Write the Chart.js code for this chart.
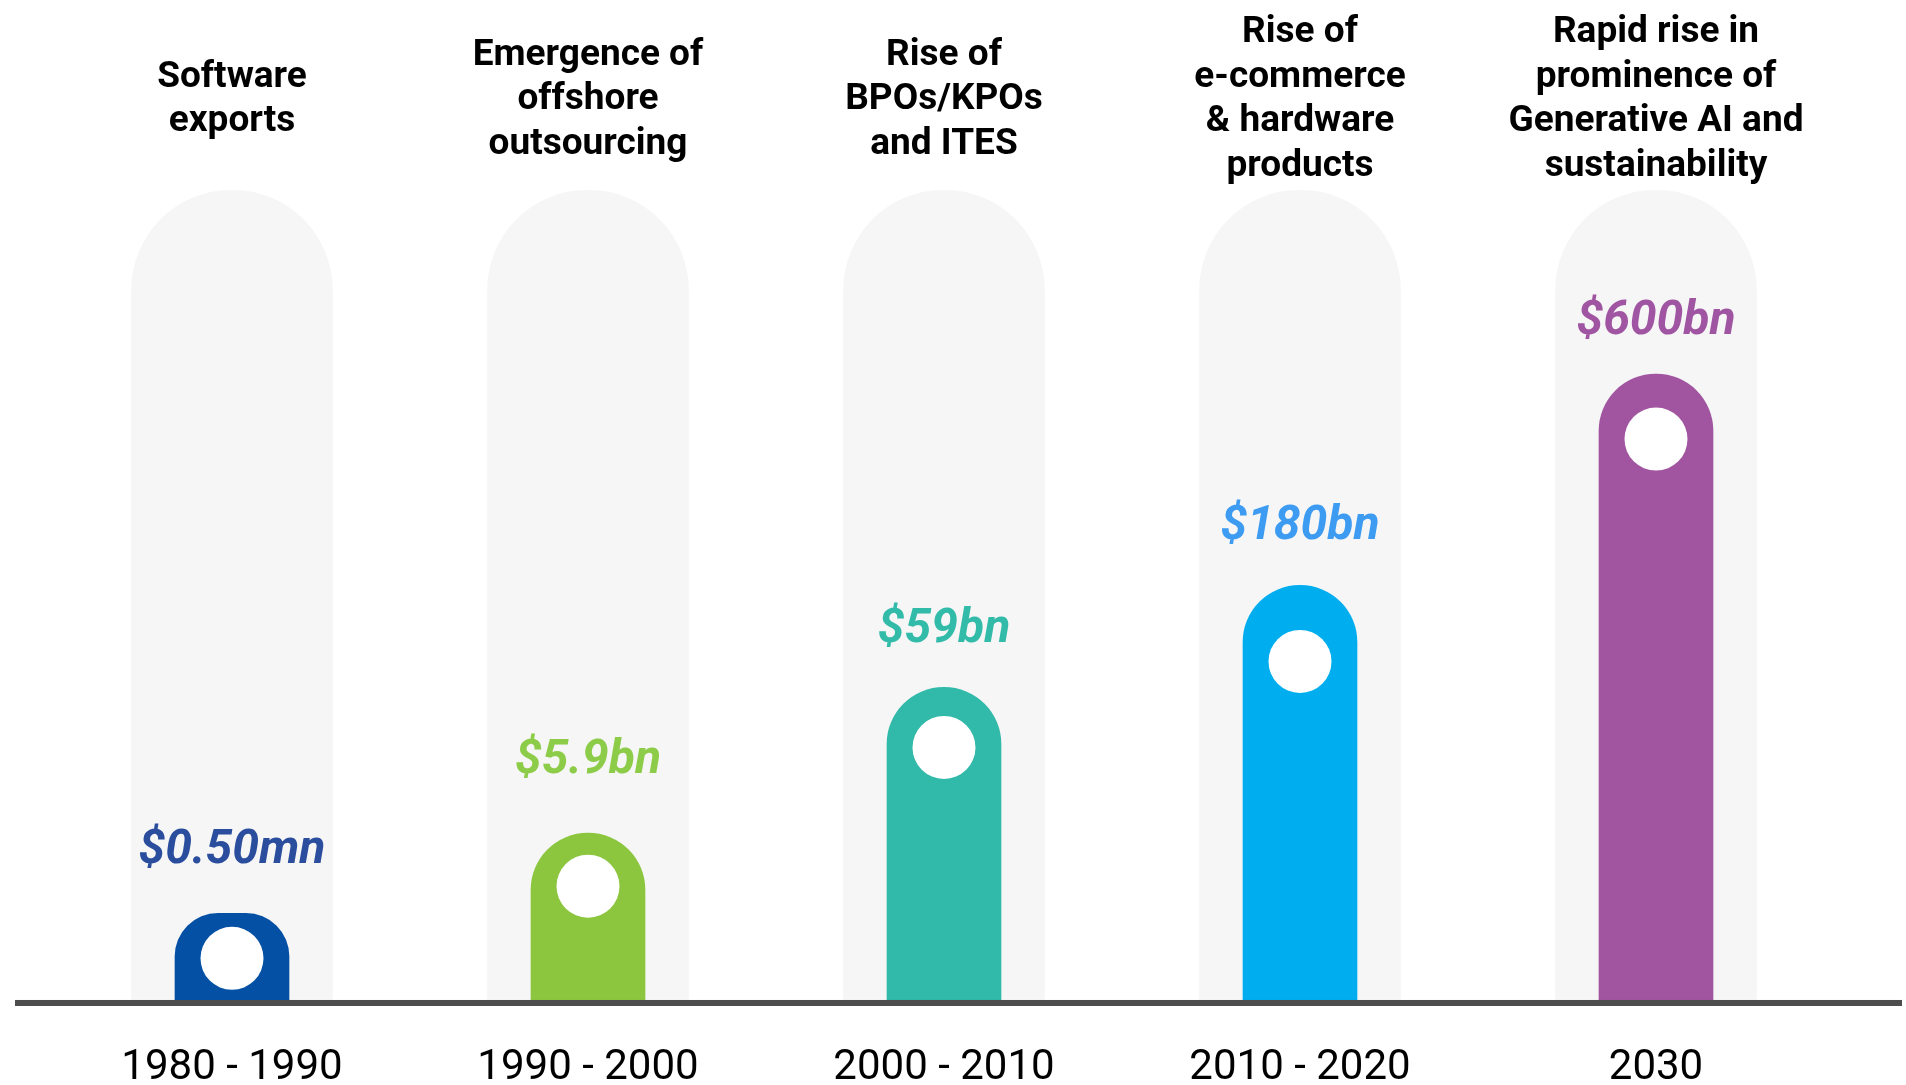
<!DOCTYPE html>
<html>
<head>
<meta charset="utf-8">
<script src="https://cdn.jsdelivr.net/npm/chart.js@4/dist/chart.umd.min.js"></script>
<style>
  html, body { margin: 0; padding: 0; background: #fff; }
  #wrap { width: 1906px; height: 1085px; position: relative; }
</style>
</head>
<body>
<div id="wrap"><canvas id="exportsChart"></canvas></div>
<script>
// periods on the bottom axis
const periods = ["1980 - 1990", "1990 - 2000", "2000 - 2010", "2010 - 2020", "2030"];
// themes shown above each column
const themes = [
  ["Software", "exports"],
  ["Emergence of", "offshore", "outsourcing"],
  ["Rise of", "BPOs/KPOs", "and ITES"],
  ["Rise of", "e-commerce", "& hardware", "products"],
  ["Rapid rise in", "prominence of", "Generative AI and", "sustainability"]
];
// export value written over each bar
const valueLabels = ["$0.50mn", "$5.9bn", "$59bn", "$180bn", "$600bn"];
// drawn bar height, % of the grey track (bars are illustrative, not to scale)
const barHeights = [10.7, 20.6, 38.6, 51.2, 77.3];
const trackHeights = [100, 100, 100, 100, 100];

const barColors = ["#0450a4", "#8cc63f", "#31b9a9", "#00aeef", "#a155a0"];
const labelColors = ["#2a4d9d", "#8dcc48", "#33bba9", "#3d9bf2", "#a055a2"];

// per-bar spacing of the value text and the white dot (px from bar top)
const labelGap = [50, 60, 45, 46, 40];
const dotDrop = [45, 53, 60, 76, 65];

const markers = {
  id: "markers",
  afterDatasetsDraw(chart) {
    const ctx = chart.ctx;
    const zeroY = chart.scales.y.getPixelForValue(0);
    const meta = chart.getDatasetMeta(0);
    ctx.save();
    // base line across the whole picture
    ctx.fillStyle = "#4d4d4d";
    ctx.fillRect(15, zeroY, 1887, 6);
    meta.data.forEach(function (bar, i) {
      // white dot inside the rounded head
      ctx.beginPath();
      ctx.arc(bar.x, bar.y + dotDrop[i], 31.5, 0, Math.PI * 2);
      ctx.fillStyle = "#ffffff";
      ctx.fill();
      // value text
      ctx.font = "italic bold 48px Roboto";
      ctx.textAlign = "center";
      ctx.textBaseline = "alphabetic";
      ctx.fillStyle = labelColors[i];
      ctx.fillText(valueLabels[i], bar.x, bar.y - labelGap[i]);
    });
    ctx.restore();
  }
};

var ctx = document.getElementById("exportsChart").getContext("2d");
var exportsChart = new Chart(ctx, {
  type: "bar",
  data: {
    labels: periods,
    datasets: [
      {
        label: "Exports",
        data: barHeights,
        backgroundColor: barColors,
        barThickness: 114,
        grouped: false,
        borderSkipped: "start",
        borderRadius: { topLeft: 57, topRight: 57, bottomLeft: 0, bottomRight: 0 },
      },
      {
        label: "Track",
        data: trackHeights,
        backgroundColor: "#f6f6f6",
        barThickness: 201,
        grouped: false,
        borderSkipped: "start",
        borderRadius: { topLeft: 100, topRight: 100, bottomLeft: 0, bottomRight: 0 },
      },
    ],
  },
  options: {
    responsive: true,
    maintainAspectRatio: false,
    animation: false,
    layout: {
      padding: { top: 0, left: 54, right: 72, bottom: 0 },
    },
    plugins: {
      legend: { display: false },
      tooltip: { enabled: false },
    },
    scales: {
      x: {
        type: "category",
        position: { y: 0 },
        offset: true,
        grid: { display: false, drawTicks: false },
        border: { display: false },
        ticks: {
          color: "#000",
          padding: 48,
          maxRotation: 0,
          font: { family: "Roboto", size: 42, lineHeight: 1 },
        },
      },
      x2: {
        type: "category",
        position: { y: 119.4 },
        labels: themes,
        offset: true,
        grid: { display: false, drawTicks: false },
        border: { display: false },
        ticks: {
          color: "#000",
          padding: 0,
          maxRotation: 0,
          crossAlign: "center",
          font: { family: "Roboto", size: 37, weight: "bold", lineHeight: "44.5px" },
        },
      },
      y: {
        display: false,
        min: -10.5,
        max: 123.5,
      },
    },
  },
  plugins: [markers],
});
</script>
</body>
</html>
